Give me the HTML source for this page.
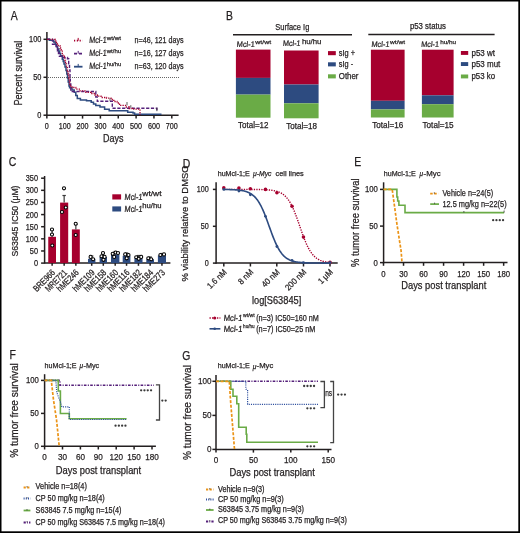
<!DOCTYPE html>
<html><head><meta charset="utf-8"><style>
html,body{margin:0;padding:0;background:#fff;}
svg{display:block;will-change:transform;}
text{font-family:"Liberation Sans", sans-serif;stroke:#231f20;stroke-width:0.25px;}
</style></head><body>
<svg width="520" height="533" viewBox="0 0 520 533">
<rect x="0" y="0" width="520" height="533" fill="#fff"/>
<text x="10.7" y="20.0" font-size="12.10" fill="#231f20" textLength="6.94" lengthAdjust="spacingAndGlyphs" >A</text>
<line x1="46.9" y1="32" x2="46.9" y2="115.9" stroke="#231f20" stroke-width="1.5" />
<line x1="46.5" y1="115.2" x2="178.6" y2="115.2" stroke="#231f20" stroke-width="1.5" />
<line x1="43.5" y1="39.3" x2="47" y2="39.3" stroke="#231f20" stroke-width="1.5" />
<text x="41.4" y="42.199999999999996" font-size="8.58" fill="#231f20" text-anchor="end" textLength="12.299999999999999" lengthAdjust="spacingAndGlyphs" >100</text>
<line x1="43.5" y1="77.3" x2="47" y2="77.3" stroke="#231f20" stroke-width="1.5" />
<text x="41.4" y="80.2" font-size="8.58" fill="#231f20" text-anchor="end" textLength="8.2" lengthAdjust="spacingAndGlyphs" >50</text>
<line x1="43.5" y1="115.2" x2="47" y2="115.2" stroke="#231f20" stroke-width="1.5" />
<text x="41.4" y="118.10000000000001" font-size="8.58" fill="#231f20" text-anchor="end" textLength="4.1" lengthAdjust="spacingAndGlyphs" >0</text>
<line x1="46.85" y1="115.2" x2="46.85" y2="118.6" stroke="#231f20" stroke-width="1.5" />
<text x="46.85" y="129.1" font-size="8.36" fill="#231f20" text-anchor="middle" textLength="4.0" lengthAdjust="spacingAndGlyphs" >0</text>
<line x1="64.7" y1="115.2" x2="64.7" y2="118.6" stroke="#231f20" stroke-width="1.5" />
<text x="64.7" y="129.1" font-size="8.36" fill="#231f20" text-anchor="middle" textLength="11.99" lengthAdjust="spacingAndGlyphs" >100</text>
<line x1="82.55" y1="115.2" x2="82.55" y2="118.6" stroke="#231f20" stroke-width="1.5" />
<text x="82.55" y="129.1" font-size="8.36" fill="#231f20" text-anchor="middle" textLength="11.99" lengthAdjust="spacingAndGlyphs" >200</text>
<line x1="100.4" y1="115.2" x2="100.4" y2="118.6" stroke="#231f20" stroke-width="1.5" />
<text x="100.4" y="129.1" font-size="8.36" fill="#231f20" text-anchor="middle" textLength="11.99" lengthAdjust="spacingAndGlyphs" >300</text>
<line x1="118.25" y1="115.2" x2="118.25" y2="118.6" stroke="#231f20" stroke-width="1.5" />
<text x="118.25" y="129.1" font-size="8.36" fill="#231f20" text-anchor="middle" textLength="11.99" lengthAdjust="spacingAndGlyphs" >400</text>
<line x1="136.1" y1="115.2" x2="136.1" y2="118.6" stroke="#231f20" stroke-width="1.5" />
<text x="136.1" y="129.1" font-size="8.36" fill="#231f20" text-anchor="middle" textLength="11.99" lengthAdjust="spacingAndGlyphs" >500</text>
<line x1="153.95" y1="115.2" x2="153.95" y2="118.6" stroke="#231f20" stroke-width="1.5" />
<text x="153.95" y="129.1" font-size="8.36" fill="#231f20" text-anchor="middle" textLength="11.99" lengthAdjust="spacingAndGlyphs" >600</text>
<line x1="171.79999999999998" y1="115.2" x2="171.79999999999998" y2="118.6" stroke="#231f20" stroke-width="1.5" />
<text x="171.79999999999998" y="129.1" font-size="8.36" fill="#231f20" text-anchor="middle" textLength="11.99" lengthAdjust="spacingAndGlyphs" >700</text>
<text x="113.3" y="142.4" font-size="10.45" fill="#231f20" text-anchor="middle" textLength="20.5" lengthAdjust="spacingAndGlyphs" >Days</text>
<text transform="translate(21.5,73.1) rotate(-90)" font-size="10.56" fill="#231f20" text-anchor="middle" textLength="65" lengthAdjust="spacingAndGlyphs" >Percent survival</text>
<line x1="48" y1="77.5" x2="180" y2="77.5" stroke="#666" stroke-width="1.0" stroke-dasharray="1 1"/>
<path d="M47,39.3 H49.3 V40.2 H53.7 V42 H55.2 V44.2 H56.5 V46.5 H57.6 V49 H58.8 V51.2 H59.7 V53.5 H60.6 V55.8 H62.3 V59.2 H63.2 V61.5 H64 V63.9 H65 V67 H66 V70.5 H66.8 V74 H67.5 V78 H68.2 V82 H69 V86 H69.6 V87.7 H72 V90 H74.2 V92.3 H75.8 V95.5 H77.3 V98.5 H80.4 V100 H86.5 V100.8 H91.2 V102.3 H93.5 V104 H95.8 V105.4 H100 V106.9 H104.6 V109.2 H109.2 V110.8 H127.7 V112.3 H133 V113 H134.6 V114.2 H161.5" fill="none" stroke="#2d4b80" stroke-width="1.5" />
<path d="M47,39.3 H52.5 V44.2 H56 V46 H56.5 V48.3 H57.5 V51 H58.5 V53.5 H59.4 V56.3 H62 V57.5 H67.5 V58.7 H68.7 V63.9 H69.5 V70 H70 V77 H70.3 V84 H70.8 V91.5 H95.8 V97 H97.3 V101.2 H112.3 V108.2 H156.9 V111.5" fill="none" stroke="#55207a" stroke-width="1.4" stroke-dasharray="3.2 1.6"/>
<path d="M47,39.3 H55.4 V40.8 H56.5 V42.5 H57.4 V44.2 H58.3 V45.7 H60 V48 H61.2 V50.3 H62.3 V55.2 H64.3 V57.2 H64.9 V60.4 H65.5 V63.9 H66.5 V67 H67.3 V70.5 H68 V74 H68.6 V78 H69.2 V82 H69.8 V86 H72 V87.5 H75.8 V89.2 H80 V90.8 H85 V92.3 H91.2 V93.5 H95 V95 H97.3 V96.2 H101 V97.5 H106.5 V98.2 H111 V99.5 H113.8 V101.5 H117 V103 H119.5 V105.4 H126.2 V107 H129.2 V108.5 H132.3 V109.2 H140 V115" fill="none" stroke="#a6002e" stroke-width="1.3" stroke-dasharray="1.3 1.1"/>
<line x1="110" y1="98.3" x2="110" y2="100.8" stroke="#333" stroke-width="0.8" />
<line x1="127" y1="102" x2="127" y2="105.4" stroke="#333" stroke-width="0.8" />
<line x1="130.8" y1="105.2" x2="130.8" y2="107.7" stroke="#333" stroke-width="0.8" />
<line x1="156.9" y1="107.8" x2="156.9" y2="111.2" stroke="#333" stroke-width="0.8" />
<line x1="74" y1="40.7" x2="82.5" y2="40.7" stroke="#a6002e" stroke-width="1.8" stroke-dasharray="1.2 1.6"/>
<line x1="78.2" y1="37.900000000000006" x2="78.2" y2="40.7" stroke="#a6002e" stroke-width="1.0" />
<text transform="translate(88.9,42.800000000000004) skewX(-5)" font-size="9.02" fill="#231f20" textLength="17.6" lengthAdjust="spacingAndGlyphs" >Mcl-1</text>
<text x="106.7" y="39.7" font-size="6.16" fill="#231f20" textLength="14.4" lengthAdjust="spacingAndGlyphs" >wt/wt</text>
<text x="134.6" y="42.800000000000004" font-size="9.02" fill="#231f20" textLength="49" lengthAdjust="spacingAndGlyphs" >n=46, 121 days</text>
<line x1="74" y1="53.7" x2="82.5" y2="53.7" stroke="#55207a" stroke-width="1.8" stroke-dasharray="3 2"/>
<line x1="78.2" y1="50.900000000000006" x2="78.2" y2="53.7" stroke="#55207a" stroke-width="1.0" />
<text transform="translate(88.9,55.800000000000004) skewX(-5)" font-size="9.02" fill="#231f20" textLength="17.6" lengthAdjust="spacingAndGlyphs" >Mcl-1</text>
<text x="106.7" y="52.7" font-size="6.16" fill="#231f20" textLength="14.4" lengthAdjust="spacingAndGlyphs" >wt/hu</text>
<text x="134.6" y="55.800000000000004" font-size="9.02" fill="#231f20" textLength="49" lengthAdjust="spacingAndGlyphs" >n=16, 127 days</text>
<line x1="74" y1="66.7" x2="82.5" y2="66.7" stroke="#2d4b80" stroke-width="1.8" />
<line x1="78.2" y1="63.900000000000006" x2="78.2" y2="66.7" stroke="#2d4b80" stroke-width="1.0" />
<text transform="translate(88.9,68.8) skewX(-5)" font-size="9.02" fill="#231f20" textLength="17.6" lengthAdjust="spacingAndGlyphs" >Mcl-1</text>
<text x="106.7" y="65.7" font-size="6.16" fill="#231f20" textLength="14.4" lengthAdjust="spacingAndGlyphs" >hu/hu</text>
<text x="134.6" y="68.8" font-size="9.02" fill="#231f20" textLength="49" lengthAdjust="spacingAndGlyphs" >n=63, 120 days</text>
<text x="226.1" y="20.1" font-size="12.10" fill="#231f20" textLength="6.94" lengthAdjust="spacingAndGlyphs" >B</text>
<text x="292.3" y="29.7" font-size="8.80" fill="#231f20" text-anchor="middle" textLength="34" lengthAdjust="spacingAndGlyphs" >Surface Ig</text>
<line x1="233" y1="34.8" x2="352" y2="34.8" stroke="#231f20" stroke-width="1.5" />
<text x="427.9" y="28.9" font-size="8.80" fill="#231f20" text-anchor="middle" textLength="36" lengthAdjust="spacingAndGlyphs" >p53 status</text>
<line x1="368.3" y1="34.6" x2="494.6" y2="34.6" stroke="#231f20" stroke-width="1.5" />
<rect x="235.9" y="49.6" width="34.6" height="28.300000000000004" fill="#a6002e"/>
<rect x="235.9" y="77.9" width="34.6" height="16.69999999999999" fill="#2d4b80"/>
<rect x="235.9" y="94.6" width="34.6" height="23.10000000000001" fill="#6aab46"/>
<rect x="284" y="50.5" width="34.6" height="34.0" fill="#a6002e"/>
<rect x="284" y="84.5" width="34.6" height="18.799999999999997" fill="#2d4b80"/>
<rect x="284" y="103.3" width="34.6" height="15.0" fill="#6aab46"/>
<rect x="370.9" y="49.7" width="33.7" height="51.099999999999994" fill="#a6002e"/>
<rect x="370.9" y="100.8" width="33.7" height="8.600000000000009" fill="#2d4b80"/>
<rect x="370.9" y="109.4" width="33.7" height="8.099999999999994" fill="#6aab46"/>
<rect x="421.9" y="49.7" width="31.7" height="45.599999999999994" fill="#a6002e"/>
<rect x="421.9" y="95.3" width="31.7" height="8.900000000000006" fill="#2d4b80"/>
<rect x="421.9" y="104.2" width="31.7" height="13.299999999999997" fill="#6aab46"/>
<text transform="translate(236.5,46.8) skewX(-5)" font-size="8.03" fill="#231f20" textLength="18" lengthAdjust="spacingAndGlyphs" >Mcl-1</text>
<text x="255.3" y="43.8" font-size="6.16" fill="#231f20" textLength="15.8" lengthAdjust="spacingAndGlyphs" >wt/wt</text>
<text transform="translate(282.7,46.4) skewX(-5)" font-size="8.03" fill="#231f20" textLength="17.7" lengthAdjust="spacingAndGlyphs" >Mcl-1</text>
<text x="301.9" y="44.0" font-size="7.70" fill="#231f20" textLength="19.6" lengthAdjust="spacingAndGlyphs" >hu/hu</text>
<text transform="translate(371.2,46.5) skewX(-5)" font-size="8.03" fill="#231f20" textLength="18.1" lengthAdjust="spacingAndGlyphs" >Mcl-1</text>
<text x="390.1" y="43.8" font-size="6.16" fill="#231f20" textLength="15" lengthAdjust="spacingAndGlyphs" >wt/wt</text>
<text transform="translate(420.9,46.7) skewX(-5)" font-size="8.03" fill="#231f20" textLength="17.9" lengthAdjust="spacingAndGlyphs" >Mcl-1</text>
<text x="440.2" y="43.6" font-size="6.16" fill="#231f20" textLength="15.9" lengthAdjust="spacingAndGlyphs" >hu/hu</text>
<text x="238.0" y="128.2" font-size="8.36" fill="#231f20" textLength="30.5" lengthAdjust="spacingAndGlyphs" >Total=12</text>
<text x="286.3" y="128.8" font-size="8.36" fill="#231f20" textLength="30.7" lengthAdjust="spacingAndGlyphs" >Total=18</text>
<text x="372.3" y="128.0" font-size="8.36" fill="#231f20" textLength="30.9" lengthAdjust="spacingAndGlyphs" >Total=16</text>
<text x="422.5" y="128.2" font-size="8.36" fill="#231f20" textLength="31.1" lengthAdjust="spacingAndGlyphs" >Total=15</text>
<rect x="328" y="51.1" width="7.8" height="4.1" fill="#a6002e"/>
<rect x="328" y="62.3" width="7.8" height="4.1" fill="#2d4b80"/>
<rect x="328" y="74.3" width="7.8" height="4.1" fill="#6aab46"/>
<text x="338.8" y="56.0" font-size="8.36" fill="#231f20" textLength="16.2" lengthAdjust="spacingAndGlyphs" >sIg +</text>
<text x="338.8" y="66.8" font-size="8.36" fill="#231f20" textLength="14.3" lengthAdjust="spacingAndGlyphs" >sIg -</text>
<text x="338.8" y="79.0" font-size="8.36" fill="#231f20" textLength="19.7" lengthAdjust="spacingAndGlyphs" >Other</text>
<rect x="460.9" y="51.0" width="7.3" height="3.9" fill="#a6002e"/>
<rect x="460.9" y="62.1" width="7.3" height="3.9" fill="#2d4b80"/>
<rect x="460.9" y="74.5" width="7.3" height="3.9" fill="#6aab46"/>
<text x="471.5" y="55.9" font-size="8.36" fill="#231f20" textLength="23.5" lengthAdjust="spacingAndGlyphs" >p53 wt</text>
<text x="471.5" y="66.9" font-size="8.36" fill="#231f20" textLength="28.8" lengthAdjust="spacingAndGlyphs" >p53 mut</text>
<text x="471.5" y="79.4" font-size="8.36" fill="#231f20" textLength="23.5" lengthAdjust="spacingAndGlyphs" >p53 ko</text>
<text x="8.7" y="166.1" font-size="12.10" fill="#231f20" textLength="7.52" lengthAdjust="spacingAndGlyphs" >C</text>
<line x1="44.6" y1="176" x2="44.6" y2="263.6" stroke="#231f20" stroke-width="1.5" />
<line x1="44.3" y1="263.1" x2="170.4" y2="263.1" stroke="#231f20" stroke-width="1.5" />
<line x1="41.1" y1="263.1" x2="44.6" y2="263.1" stroke="#231f20" stroke-width="1.5" />
<text x="38.0" y="266.1" font-size="8.25" fill="#231f20" text-anchor="end" textLength="4.1" lengthAdjust="spacingAndGlyphs" >0</text>
<line x1="41.1" y1="250.97000000000003" x2="44.6" y2="250.97000000000003" stroke="#231f20" stroke-width="1.5" />
<text x="38.0" y="253.97000000000003" font-size="8.25" fill="#231f20" text-anchor="end" textLength="8.2" lengthAdjust="spacingAndGlyphs" >50</text>
<line x1="41.1" y1="238.84000000000003" x2="44.6" y2="238.84000000000003" stroke="#231f20" stroke-width="1.5" />
<text x="38.0" y="241.84000000000003" font-size="8.25" fill="#231f20" text-anchor="end" textLength="12.2" lengthAdjust="spacingAndGlyphs" >100</text>
<line x1="41.1" y1="226.71000000000004" x2="44.6" y2="226.71000000000004" stroke="#231f20" stroke-width="1.5" />
<text x="38.0" y="229.71000000000004" font-size="8.25" fill="#231f20" text-anchor="end" textLength="12.2" lengthAdjust="spacingAndGlyphs" >150</text>
<line x1="41.1" y1="214.58" x2="44.6" y2="214.58" stroke="#231f20" stroke-width="1.5" />
<text x="38.0" y="217.58" font-size="8.25" fill="#231f20" text-anchor="end" textLength="12.2" lengthAdjust="spacingAndGlyphs" >200</text>
<line x1="41.1" y1="202.45000000000002" x2="44.6" y2="202.45000000000002" stroke="#231f20" stroke-width="1.5" />
<text x="38.0" y="205.45000000000002" font-size="8.25" fill="#231f20" text-anchor="end" textLength="12.2" lengthAdjust="spacingAndGlyphs" >250</text>
<line x1="41.1" y1="190.32000000000002" x2="44.6" y2="190.32000000000002" stroke="#231f20" stroke-width="1.5" />
<text x="38.0" y="193.32000000000002" font-size="8.25" fill="#231f20" text-anchor="end" textLength="12.2" lengthAdjust="spacingAndGlyphs" >300</text>
<line x1="41.1" y1="178.19000000000003" x2="44.6" y2="178.19000000000003" stroke="#231f20" stroke-width="1.5" />
<text x="38.0" y="181.19000000000003" font-size="8.25" fill="#231f20" text-anchor="end" textLength="12.2" lengthAdjust="spacingAndGlyphs" >350</text>
<text transform="translate(17.9,221) rotate(-90)" font-size="9.24" fill="#231f20" text-anchor="middle" textLength="71" lengthAdjust="spacingAndGlyphs" >S63845 IC50 (μM)</text>
<rect x="48.25" y="236.8" width="7.75" height="26.30000000000001" fill="#a6002e"/>
<line x1="52.125" y1="229.8" x2="52.125" y2="236.8" stroke="#3a3a3a" stroke-width="1.2" />
<line x1="50.425" y1="229.8" x2="53.825" y2="229.8" stroke="#3a3a3a" stroke-width="1.2" />
<line x1="52.125" y1="263.1" x2="52.125" y2="265.8" stroke="#231f20" stroke-width="1.5" />
<text transform="translate(55.725,273.2) rotate(-45)" font-size="9.02" fill="#231f20" text-anchor="end" textLength="27" lengthAdjust="spacingAndGlyphs" >BRE966</text>
<rect x="60.1" y="202.6" width="8.100000000000001" height="60.50000000000003" fill="#a6002e"/>
<line x1="64.15" y1="195.5" x2="64.15" y2="202.6" stroke="#3a3a3a" stroke-width="1.2" />
<line x1="62.45" y1="195.5" x2="65.85000000000001" y2="195.5" stroke="#3a3a3a" stroke-width="1.2" />
<line x1="64.15" y1="263.1" x2="64.15" y2="265.8" stroke="#231f20" stroke-width="1.5" />
<text transform="translate(67.75,273.2) rotate(-45)" font-size="9.02" fill="#231f20" text-anchor="end" textLength="27" lengthAdjust="spacingAndGlyphs" >MRE721</text>
<rect x="71.9" y="229.4" width="7.8999999999999915" height="33.70000000000002" fill="#a6002e"/>
<line x1="75.85" y1="224.5" x2="75.85" y2="229.4" stroke="#3a3a3a" stroke-width="1.2" />
<line x1="74.14999999999999" y1="224.5" x2="77.55" y2="224.5" stroke="#3a3a3a" stroke-width="1.2" />
<line x1="75.85" y1="263.1" x2="75.85" y2="265.8" stroke="#231f20" stroke-width="1.5" />
<text transform="translate(79.44999999999999,273.2) rotate(-45)" font-size="9.02" fill="#231f20" text-anchor="end" textLength="27" lengthAdjust="spacingAndGlyphs" >hME246</text>
<rect x="88" y="258.8" width="7.400000000000006" height="4.300000000000011" fill="#2d4b80"/>
<line x1="91.7" y1="256" x2="91.7" y2="258.8" stroke="#3a3a3a" stroke-width="1.2" />
<line x1="90.0" y1="256" x2="93.4" y2="256" stroke="#3a3a3a" stroke-width="1.2" />
<line x1="91.7" y1="263.1" x2="91.7" y2="265.8" stroke="#231f20" stroke-width="1.5" />
<text transform="translate(95.3,273.2) rotate(-45)" font-size="9.02" fill="#231f20" text-anchor="end" textLength="27" lengthAdjust="spacingAndGlyphs" >hME109</text>
<rect x="99.6" y="257" width="7.400000000000006" height="6.100000000000023" fill="#2d4b80"/>
<line x1="103.3" y1="253.5" x2="103.3" y2="257" stroke="#3a3a3a" stroke-width="1.2" />
<line x1="101.6" y1="253.5" x2="105.0" y2="253.5" stroke="#3a3a3a" stroke-width="1.2" />
<line x1="103.3" y1="263.1" x2="103.3" y2="265.8" stroke="#231f20" stroke-width="1.5" />
<text transform="translate(106.89999999999999,273.2) rotate(-45)" font-size="9.02" fill="#231f20" text-anchor="end" textLength="27" lengthAdjust="spacingAndGlyphs" >hME158</text>
<rect x="111" y="254.4" width="8.400000000000006" height="8.700000000000017" fill="#2d4b80"/>
<line x1="115.2" y1="251.5" x2="115.2" y2="254.4" stroke="#3a3a3a" stroke-width="1.2" />
<line x1="113.5" y1="251.5" x2="116.9" y2="251.5" stroke="#3a3a3a" stroke-width="1.2" />
<line x1="115.2" y1="263.1" x2="115.2" y2="265.8" stroke="#231f20" stroke-width="1.5" />
<text transform="translate(118.8,273.2) rotate(-45)" font-size="9.02" fill="#231f20" text-anchor="end" textLength="27" lengthAdjust="spacingAndGlyphs" >hME160</text>
<rect x="122.7" y="255.8" width="7.700000000000003" height="7.300000000000011" fill="#2d4b80"/>
<line x1="126.55000000000001" y1="253" x2="126.55000000000001" y2="255.8" stroke="#3a3a3a" stroke-width="1.2" />
<line x1="124.85000000000001" y1="253" x2="128.25" y2="253" stroke="#3a3a3a" stroke-width="1.2" />
<line x1="126.55000000000001" y1="263.1" x2="126.55000000000001" y2="265.8" stroke="#231f20" stroke-width="1.5" />
<text transform="translate(130.15,273.2) rotate(-45)" font-size="9.02" fill="#231f20" text-anchor="end" textLength="27" lengthAdjust="spacingAndGlyphs" >hME116</text>
<rect x="134.4" y="258.3" width="8.099999999999994" height="4.800000000000011" fill="#2d4b80"/>
<line x1="138.45" y1="255.5" x2="138.45" y2="258.3" stroke="#3a3a3a" stroke-width="1.2" />
<line x1="136.75" y1="255.5" x2="140.14999999999998" y2="255.5" stroke="#3a3a3a" stroke-width="1.2" />
<line x1="138.45" y1="263.1" x2="138.45" y2="265.8" stroke="#231f20" stroke-width="1.5" />
<text transform="translate(142.04999999999998,273.2) rotate(-45)" font-size="9.02" fill="#231f20" text-anchor="end" textLength="27" lengthAdjust="spacingAndGlyphs" >hME182</text>
<rect x="146.3" y="259.2" width="7.699999999999989" height="3.900000000000034" fill="#2d4b80"/>
<line x1="150.15" y1="257" x2="150.15" y2="259.2" stroke="#3a3a3a" stroke-width="1.2" />
<line x1="148.45000000000002" y1="257" x2="151.85" y2="257" stroke="#3a3a3a" stroke-width="1.2" />
<line x1="150.15" y1="263.1" x2="150.15" y2="265.8" stroke="#231f20" stroke-width="1.5" />
<text transform="translate(153.75,273.2) rotate(-45)" font-size="9.02" fill="#231f20" text-anchor="end" textLength="27" lengthAdjust="spacingAndGlyphs" >hME184</text>
<rect x="157.9" y="255.4" width="8.099999999999994" height="7.700000000000017" fill="#2d4b80"/>
<line x1="161.95" y1="253.5" x2="161.95" y2="255.4" stroke="#3a3a3a" stroke-width="1.2" />
<line x1="160.25" y1="253.5" x2="163.64999999999998" y2="253.5" stroke="#3a3a3a" stroke-width="1.2" />
<line x1="161.95" y1="263.1" x2="161.95" y2="265.8" stroke="#231f20" stroke-width="1.5" />
<text transform="translate(165.54999999999998,273.2) rotate(-45)" font-size="9.02" fill="#231f20" text-anchor="end" textLength="27" lengthAdjust="spacingAndGlyphs" >hME273</text>
<circle cx="52" cy="229.5" r="1.55" fill="#fff" stroke="#000" stroke-width="1.05"/>
<circle cx="52" cy="234.5" r="1.55" fill="#fff" stroke="#000" stroke-width="1.05"/>
<circle cx="52.3" cy="245.5" r="1.55" fill="#fff" stroke="#000" stroke-width="1.05"/>
<circle cx="64" cy="188.3" r="1.55" fill="#fff" stroke="#000" stroke-width="1.05"/>
<circle cx="65.8" cy="207.5" r="1.55" fill="#fff" stroke="#000" stroke-width="1.05"/>
<circle cx="62" cy="212" r="1.55" fill="#fff" stroke="#000" stroke-width="1.05"/>
<circle cx="75.7" cy="223.7" r="1.55" fill="#fff" stroke="#000" stroke-width="1.05"/>
<circle cx="75.7" cy="235" r="1.55" fill="#fff" stroke="#000" stroke-width="1.05"/>
<circle cx="90.6" cy="256.9" r="1.55" fill="#fff" stroke="#000" stroke-width="1.05"/>
<circle cx="93.1" cy="259.2" r="1.55" fill="#fff" stroke="#000" stroke-width="1.05"/>
<circle cx="103" cy="253" r="1.55" fill="#fff" stroke="#000" stroke-width="1.05"/>
<circle cx="101.5" cy="256.3" r="1.55" fill="#fff" stroke="#000" stroke-width="1.05"/>
<circle cx="104.6" cy="256.9" r="1.55" fill="#fff" stroke="#000" stroke-width="1.05"/>
<circle cx="103.5" cy="259.8" r="1.55" fill="#fff" stroke="#000" stroke-width="1.05"/>
<circle cx="112.7" cy="253.8" r="1.55" fill="#fff" stroke="#000" stroke-width="1.05"/>
<circle cx="115.6" cy="252.5" r="1.55" fill="#fff" stroke="#000" stroke-width="1.05"/>
<circle cx="118" cy="253" r="1.55" fill="#fff" stroke="#000" stroke-width="1.05"/>
<circle cx="114.2" cy="256.9" r="1.55" fill="#fff" stroke="#000" stroke-width="1.05"/>
<circle cx="125.2" cy="254.4" r="1.55" fill="#fff" stroke="#000" stroke-width="1.05"/>
<circle cx="128.5" cy="255" r="1.55" fill="#fff" stroke="#000" stroke-width="1.05"/>
<circle cx="126.7" cy="258.3" r="1.55" fill="#fff" stroke="#000" stroke-width="1.05"/>
<circle cx="136.2" cy="257.3" r="1.55" fill="#fff" stroke="#000" stroke-width="1.05"/>
<circle cx="138.7" cy="258.8" r="1.55" fill="#fff" stroke="#000" stroke-width="1.05"/>
<circle cx="141.2" cy="256.9" r="1.55" fill="#fff" stroke="#000" stroke-width="1.05"/>
<circle cx="148.3" cy="258.3" r="1.55" fill="#fff" stroke="#000" stroke-width="1.05"/>
<circle cx="151.2" cy="259.2" r="1.55" fill="#fff" stroke="#000" stroke-width="1.05"/>
<circle cx="160.4" cy="255" r="1.55" fill="#fff" stroke="#000" stroke-width="1.05"/>
<circle cx="164" cy="254.4" r="1.55" fill="#fff" stroke="#000" stroke-width="1.05"/>
<rect x="112.3" y="194.3" width="8.8" height="5.2" fill="#a6002e"/>
<rect x="112.3" y="206.4" width="8.8" height="5.1" fill="#2d4b80"/>
<text transform="translate(124.3,199.6) skewX(-5)" font-size="8.80" fill="#231f20" textLength="18" lengthAdjust="spacingAndGlyphs" >Mcl-1</text>
<text x="142.3" y="196.3" font-size="7.04" fill="#231f20" textLength="19.2" lengthAdjust="spacingAndGlyphs" >wt/wt</text>
<text transform="translate(124.3,211.6) skewX(-5)" font-size="8.80" fill="#231f20" textLength="18" lengthAdjust="spacingAndGlyphs" >Mcl-1</text>
<text x="142.3" y="208.3" font-size="7.04" fill="#231f20" textLength="19.2" lengthAdjust="spacingAndGlyphs" >hu/hu</text>
<text x="182.7" y="167.6" font-size="12.10" fill="#231f20" textLength="7.52" lengthAdjust="spacingAndGlyphs" >D</text>
<text x="217.7" y="176" font-size="7.92" fill="#231f20" textLength="32" lengthAdjust="spacingAndGlyphs" >huMcl-1;E</text>
<text x="253" y="176" font-size="7.92" fill="#231f20" textLength="18.5" lengthAdjust="spacingAndGlyphs" font-style="italic">μ-Myc</text>
<text x="275.6" y="176" font-size="7.92" fill="#231f20" textLength="28.2" lengthAdjust="spacingAndGlyphs" >cell lines</text>
<line x1="216.1" y1="182.3" x2="216.1" y2="263.7" stroke="#231f20" stroke-width="1.5" />
<line x1="215.6" y1="263.1" x2="337.7" y2="263.1" stroke="#231f20" stroke-width="1.5" />
<line x1="212.9" y1="189.4" x2="216.1" y2="189.4" stroke="#231f20" stroke-width="1.5" />
<text x="208.8" y="192.3" font-size="8.58" fill="#231f20" text-anchor="end" textLength="12.0" lengthAdjust="spacingAndGlyphs" >100</text>
<line x1="212.9" y1="226.3" x2="216.1" y2="226.3" stroke="#231f20" stroke-width="1.5" />
<text x="208.8" y="229.20000000000002" font-size="8.58" fill="#231f20" text-anchor="end" textLength="8.0" lengthAdjust="spacingAndGlyphs" >50</text>
<line x1="212.9" y1="263.1" x2="216.1" y2="263.1" stroke="#231f20" stroke-width="1.5" />
<text x="208.8" y="266.0" font-size="8.58" fill="#231f20" text-anchor="end" textLength="4.0" lengthAdjust="spacingAndGlyphs" >0</text>
<text transform="translate(187.8,223.5) rotate(-90)" font-size="9.90" fill="#231f20" text-anchor="middle" textLength="116.2" lengthAdjust="spacingAndGlyphs" >% viability relative to DMSO</text>
<line x1="223.8" y1="263.1" x2="223.8" y2="266.5" stroke="#231f20" stroke-width="1.5" />
<text transform="translate(227.20000000000002,272.6) rotate(-45)" font-size="8.58" fill="#231f20" text-anchor="end" textLength="23.5" lengthAdjust="spacingAndGlyphs" >1.6 nM</text>
<line x1="250.4" y1="263.1" x2="250.4" y2="266.5" stroke="#231f20" stroke-width="1.5" />
<text transform="translate(253.8,272.6) rotate(-45)" font-size="8.58" fill="#231f20" text-anchor="end" textLength="17.5" lengthAdjust="spacingAndGlyphs" >8 nM</text>
<line x1="276.8" y1="263.1" x2="276.8" y2="266.5" stroke="#231f20" stroke-width="1.5" />
<text transform="translate(280.2,272.6) rotate(-45)" font-size="8.58" fill="#231f20" text-anchor="end" textLength="21.5" lengthAdjust="spacingAndGlyphs" >40 nM</text>
<line x1="303.5" y1="263.1" x2="303.5" y2="266.5" stroke="#231f20" stroke-width="1.5" />
<text transform="translate(306.9,272.6) rotate(-45)" font-size="8.58" fill="#231f20" text-anchor="end" textLength="26" lengthAdjust="spacingAndGlyphs" >200 nM</text>
<line x1="330" y1="263.1" x2="330" y2="266.5" stroke="#231f20" stroke-width="1.5" />
<text transform="translate(333.4,272.6) rotate(-45)" font-size="8.58" fill="#231f20" text-anchor="end" textLength="17" lengthAdjust="spacingAndGlyphs" >1 μM</text>
<text x="276.6" y="303.7" font-size="10.34" fill="#231f20" text-anchor="middle" textLength="49.3" lengthAdjust="spacingAndGlyphs" >log[S63845]</text>
<path d="M223.80,189.40 L224.69,189.40 L225.57,189.40 L226.46,189.40 L227.34,189.40 L228.23,189.40 L229.11,189.40 L230.00,189.40 L230.88,189.40 L231.77,189.40 L232.65,189.40 L233.54,189.40 L234.42,189.40 L235.31,189.40 L236.19,189.40 L237.08,189.40 L237.96,189.40 L238.85,189.40 L239.73,189.41 L240.62,189.41 L241.50,189.41 L242.39,189.41 L243.27,189.41 L244.16,189.41 L245.04,189.41 L245.93,189.42 L246.81,189.42 L247.70,189.42 L248.59,189.42 L249.47,189.43 L250.36,189.43 L251.24,189.44 L252.13,189.44 L253.01,189.45 L253.90,189.45 L254.78,189.46 L255.67,189.47 L256.55,189.48 L257.44,189.49 L258.32,189.51 L259.21,189.52 L260.09,189.54 L260.98,189.56 L261.86,189.59 L262.75,189.61 L263.63,189.65 L264.52,189.68 L265.40,189.73 L266.29,189.77 L267.17,189.83 L268.06,189.89 L268.94,189.97 L269.83,190.05 L270.72,190.15 L271.60,190.26 L272.49,190.38 L273.37,190.53 L274.26,190.70 L275.14,190.89 L276.03,191.10 L276.91,191.35 L277.80,191.64 L278.68,191.96 L279.57,192.33 L280.45,192.74 L281.34,193.22 L282.22,193.76 L283.11,194.36 L283.99,195.05 L284.88,195.82 L285.76,196.69 L286.65,197.66 L287.53,198.74 L288.42,199.93 L289.30,201.26 L290.19,202.71 L291.07,204.30 L291.96,206.03 L292.84,207.89 L293.73,209.89 L294.62,212.02 L295.50,214.26 L296.39,216.61 L297.27,219.04 L298.16,221.55 L299.04,224.09 L299.93,226.66 L300.81,229.22 L301.70,231.76 L302.58,234.24 L303.47,236.65 L304.35,238.97 L305.24,241.17 L306.12,243.26 L307.01,245.22 L307.89,247.04 L308.78,248.72 L309.66,250.27 L310.55,251.68 L311.43,252.96 L312.32,254.12 L313.20,255.16 L314.09,256.10 L314.97,256.93 L315.86,257.68 L316.75,258.34 L317.63,258.92 L318.52,259.44 L319.40,259.90 L320.29,260.30 L321.17,260.65 L322.06,260.96 L322.94,261.23 L323.83,261.47 L324.71,261.68 L325.60,261.86 L326.48,262.02 L327.37,262.16 L328.25,262.28 L329.14,262.38 L330.02,262.48" fill="none" stroke="#a6002e" stroke-width="1.4" stroke-dasharray="1.3 1.2"/>
<circle cx="223.80" cy="187.9" r="1.8" fill="#a6002e"/>
<circle cx="238.92" cy="188" r="1.8" fill="#a6002e"/>
<circle cx="250.36" cy="188.8" r="1.8" fill="#a6002e"/>
<circle cx="265.47" cy="189.4" r="1.8" fill="#a6002e"/>
<circle cx="276.91" cy="192.7" r="1.8" fill="#a6002e"/>
<circle cx="292.03" cy="206.3" r="1.8" fill="#a6002e"/>
<circle cx="303.47" cy="237.1" r="1.8" fill="#a6002e"/>
<circle cx="330.02" cy="262.4" r="1.8" fill="#a6002e"/>
<path d="M223.80,189.48 L224.69,189.49 L225.57,189.50 L226.46,189.51 L227.34,189.53 L228.23,189.55 L229.11,189.57 L230.00,189.59 L230.88,189.62 L231.77,189.65 L232.65,189.69 L233.54,189.73 L234.42,189.78 L235.31,189.83 L236.19,189.90 L237.08,189.97 L237.96,190.05 L238.85,190.14 L239.73,190.24 L240.62,190.36 L241.50,190.50 L242.39,190.66 L243.27,190.83 L244.16,191.03 L245.04,191.26 L245.93,191.52 L246.81,191.81 L247.70,192.15 L248.59,192.53 L249.47,192.95 L250.36,193.44 L251.24,193.98 L252.13,194.59 L253.01,195.27 L253.90,196.04 L254.78,196.90 L255.67,197.85 L256.55,198.91 L257.44,200.07 L258.32,201.36 L259.21,202.76 L260.09,204.29 L260.98,205.95 L261.86,207.74 L262.75,209.65 L263.63,211.67 L264.52,213.81 L265.40,216.05 L266.29,218.37 L267.17,220.76 L268.06,223.19 L268.94,225.66 L269.83,228.13 L270.72,230.58 L271.60,233.00 L272.49,235.35 L273.37,237.63 L274.26,239.82 L275.14,241.90 L276.03,243.87 L276.91,245.71 L277.80,247.43 L278.68,249.02 L279.57,250.48 L280.45,251.83 L281.34,253.05 L282.22,254.16 L283.11,255.16 L283.99,256.06 L284.88,256.87 L285.76,257.59 L286.65,258.24 L287.53,258.81 L288.42,259.32 L289.30,259.78 L290.19,260.18 L291.07,260.53 L291.96,260.84 L292.84,261.12 L293.73,261.36 L294.62,261.58 L295.50,261.76 L296.39,261.93 L297.27,262.07 L298.16,262.20 L299.04,262.31 L299.93,262.41 L300.81,262.50 L301.70,262.57 L302.58,262.64 L303.47,262.70 L304.35,262.75 L305.24,262.79 L306.12,262.83 L307.01,262.86 L307.89,262.89 L308.78,262.92 L309.66,262.94 L310.55,262.96 L311.43,262.98 L312.32,262.99 L313.20,263.01 L314.09,263.02 L314.97,263.03 L315.86,263.04 L316.75,263.05 L317.63,263.05 L318.52,263.06 L319.40,263.06 L320.29,263.07 L321.17,263.07 L322.06,263.08 L322.94,263.08 L323.83,263.08 L324.71,263.08 L325.60,263.09 L326.48,263.09 L327.37,263.09 L328.25,263.09 L329.14,263.09 L330.02,263.09" fill="none" stroke="#2d4b80" stroke-width="1.6" />
<circle cx="223.80" cy="189.4" r="1.4" fill="#2d4b80"/>
<circle cx="238.92" cy="191" r="1.4" fill="#2d4b80"/>
<circle cx="250.36" cy="194.8" r="1.4" fill="#2d4b80"/>
<circle cx="265.47" cy="216.3" r="1.4" fill="#2d4b80"/>
<circle cx="276.91" cy="246.5" r="1.4" fill="#2d4b80"/>
<circle cx="292.03" cy="260.3" r="1.4" fill="#2d4b80"/>
<circle cx="303.47" cy="262.6" r="1.4" fill="#2d4b80"/>
<circle cx="330.02" cy="262.6" r="1.4" fill="#2d4b80"/>
<line x1="209.5" y1="318" x2="220.4" y2="318" stroke="#a6002e" stroke-width="1.5" stroke-dasharray="1.3 1.2"/>
<circle cx="214.7" cy="318" r="1.6" fill="#a6002e"/>
<line x1="209.5" y1="328.8" x2="220.4" y2="328.8" stroke="#2d4b80" stroke-width="1.6" />
<circle cx="214.7" cy="328.8" r="1.3" fill="#2d4b80"/>
<text transform="translate(223.4,320.6) skewX(-5)" font-size="8.80" fill="#231f20" textLength="18.8" lengthAdjust="spacingAndGlyphs" >Mcl-1</text>
<text x="243.1" y="316.8" font-size="5.72" fill="#231f20" textLength="11.6" lengthAdjust="spacingAndGlyphs" >wt/wt</text>
<text x="256.2" y="320.6" font-size="8.80" fill="#231f20" textLength="62.7" lengthAdjust="spacingAndGlyphs" >(n=3) IC50=160 nM</text>
<text transform="translate(223.4,331.7) skewX(-5)" font-size="8.80" fill="#231f20" textLength="18.8" lengthAdjust="spacingAndGlyphs" >Mcl-1</text>
<text x="243.1" y="327.9" font-size="5.72" fill="#231f20" textLength="11.6" lengthAdjust="spacingAndGlyphs" >hu/hu</text>
<text x="256.2" y="331.7" font-size="8.80" fill="#231f20" textLength="59.2" lengthAdjust="spacingAndGlyphs" >(n=7) IC50=25 nM</text>
<text x="354.2" y="165.8" font-size="12.10" fill="#231f20" textLength="6.94" lengthAdjust="spacingAndGlyphs" >E</text>
<text x="383.8" y="176" font-size="7.92" fill="#231f20" textLength="32" lengthAdjust="spacingAndGlyphs" >huMcl-1;E</text>
<text x="419.6" y="176.2" font-size="7.92" fill="#231f20" textLength="3.6" lengthAdjust="spacingAndGlyphs" font-style="italic">μ</text>
<text x="423.6" y="176" font-size="7.92" fill="#231f20" textLength="17" lengthAdjust="spacingAndGlyphs" >-Myc</text>
<line x1="383.6" y1="182.3" x2="383.6" y2="263.3" stroke="#231f20" stroke-width="1.5" />
<line x1="383.1" y1="262.6" x2="507.5" y2="262.6" stroke="#231f20" stroke-width="1.5" />
<line x1="380" y1="189.4" x2="383.6" y2="189.4" stroke="#231f20" stroke-width="1.5" />
<text x="377.9" y="192.3" font-size="9.02" fill="#231f20" text-anchor="end" textLength="12.899999999999999" lengthAdjust="spacingAndGlyphs" >100</text>
<line x1="380" y1="226.1" x2="383.6" y2="226.1" stroke="#231f20" stroke-width="1.5" />
<text x="377.9" y="229.0" font-size="9.02" fill="#231f20" text-anchor="end" textLength="8.6" lengthAdjust="spacingAndGlyphs" >50</text>
<line x1="380" y1="262.6" x2="383.6" y2="262.6" stroke="#231f20" stroke-width="1.5" />
<text x="377.9" y="265.5" font-size="9.02" fill="#231f20" text-anchor="end" textLength="4.3" lengthAdjust="spacingAndGlyphs" >0</text>
<line x1="383.5" y1="262.6" x2="383.5" y2="265.8" stroke="#231f20" stroke-width="1.5" />
<text x="383.5" y="276.6" font-size="9.02" fill="#231f20" text-anchor="middle" textLength="4.31" lengthAdjust="spacingAndGlyphs" >0</text>
<line x1="403.525" y1="262.6" x2="403.525" y2="265.8" stroke="#231f20" stroke-width="1.5" />
<text x="403.525" y="276.6" font-size="9.02" fill="#231f20" text-anchor="middle" textLength="8.63" lengthAdjust="spacingAndGlyphs" >30</text>
<line x1="423.55" y1="262.6" x2="423.55" y2="265.8" stroke="#231f20" stroke-width="1.5" />
<text x="423.55" y="276.6" font-size="9.02" fill="#231f20" text-anchor="middle" textLength="8.63" lengthAdjust="spacingAndGlyphs" >60</text>
<line x1="443.575" y1="262.6" x2="443.575" y2="265.8" stroke="#231f20" stroke-width="1.5" />
<text x="443.575" y="276.6" font-size="9.02" fill="#231f20" text-anchor="middle" textLength="8.63" lengthAdjust="spacingAndGlyphs" >90</text>
<line x1="463.6" y1="262.6" x2="463.6" y2="265.8" stroke="#231f20" stroke-width="1.5" />
<text x="463.6" y="276.6" font-size="9.02" fill="#231f20" text-anchor="middle" textLength="12.94" lengthAdjust="spacingAndGlyphs" >120</text>
<line x1="483.625" y1="262.6" x2="483.625" y2="265.8" stroke="#231f20" stroke-width="1.5" />
<text x="483.625" y="276.6" font-size="9.02" fill="#231f20" text-anchor="middle" textLength="12.94" lengthAdjust="spacingAndGlyphs" >150</text>
<line x1="503.65" y1="262.6" x2="503.65" y2="265.8" stroke="#231f20" stroke-width="1.5" />
<text x="503.65" y="276.6" font-size="9.02" fill="#231f20" text-anchor="middle" textLength="12.94" lengthAdjust="spacingAndGlyphs" >180</text>
<text x="443.8" y="289.3" font-size="10.56" fill="#231f20" text-anchor="middle" textLength="85.1" lengthAdjust="spacingAndGlyphs" >Days post transplant</text>
<text transform="translate(358.9,222.7) rotate(-90)" font-size="10.56" fill="#231f20" text-anchor="middle" textLength="88.4" lengthAdjust="spacingAndGlyphs" >% tumor free survival</text>
<path d="M383.6,189.4 H396.9 V197 H397.7 V201 H398.9 V205.3 H405 V212.6 H504.1" fill="none" stroke="#6aab46" stroke-width="1.6" />
<line x1="463.9" y1="211" x2="463.9" y2="212.6" stroke="#333" stroke-width="0.8" />
<line x1="504.1" y1="210.5" x2="504.1" y2="212.6" stroke="#333" stroke-width="0.8" />
<path d="M383.6,189.4 H392.2 L394.4,205.3 L396.9,223.9 L401.1,250.9 L402,262.6" fill="none" stroke="#eb9316" stroke-width="1.7" stroke-dasharray="3 1.6"/>
<line x1="430.2" y1="193.7" x2="438.3" y2="193.7" stroke="#eb9316" stroke-width="1.8" stroke-dasharray="2.5 1.5"/>
<line x1="430.2" y1="204.1" x2="439" y2="204.1" stroke="#6aab46" stroke-width="1.7" />
<line x1="434.3" y1="192.2" x2="434.3" y2="193.7" stroke="#333" stroke-width="0.7" />
<line x1="434.6" y1="202.6" x2="434.6" y2="204.1" stroke="#333" stroke-width="0.7" />
<text x="442.4" y="196.1" font-size="8.80" fill="#231f20" textLength="50.8" lengthAdjust="spacingAndGlyphs" >Vehicle n=24(5)</text>
<text x="442.4" y="206.7" font-size="8.80" fill="#231f20" textLength="64.2" lengthAdjust="spacingAndGlyphs" >12.5 mg/kg n=22(5)</text>
<circle cx="493.15" cy="220.2" r="1.15" fill="#3a3a3a"/>
<circle cx="496.45" cy="220.2" r="1.15" fill="#3a3a3a"/>
<circle cx="499.75" cy="220.2" r="1.15" fill="#3a3a3a"/>
<circle cx="503.05" cy="220.2" r="1.15" fill="#3a3a3a"/>
<text x="9.6" y="359.3" font-size="12.10" fill="#231f20" textLength="6.36" lengthAdjust="spacingAndGlyphs" >F</text>
<text x="44.6" y="367.9" font-size="7.92" fill="#231f20" textLength="32" lengthAdjust="spacingAndGlyphs" >huMcl-1;E</text>
<text x="79.6" y="368.1" font-size="7.92" fill="#231f20" textLength="3.6" lengthAdjust="spacingAndGlyphs" font-style="italic">μ</text>
<text x="83.5" y="367.9" font-size="7.92" fill="#231f20" textLength="15.7" lengthAdjust="spacingAndGlyphs" >-Myc</text>
<line x1="44.6" y1="374.2" x2="44.6" y2="447" stroke="#231f20" stroke-width="1.5" />
<line x1="44.1" y1="446.3" x2="155.9" y2="446.3" stroke="#231f20" stroke-width="1.5" />
<line x1="41" y1="380.4" x2="44.6" y2="380.4" stroke="#231f20" stroke-width="1.5" />
<text x="38.9" y="383.4" font-size="9.46" fill="#231f20" text-anchor="end" textLength="12.899999999999999" lengthAdjust="spacingAndGlyphs" >100</text>
<line x1="41" y1="413.4" x2="44.6" y2="413.4" stroke="#231f20" stroke-width="1.5" />
<text x="38.9" y="416.4" font-size="9.46" fill="#231f20" text-anchor="end" textLength="8.6" lengthAdjust="spacingAndGlyphs" >50</text>
<line x1="41" y1="446.3" x2="44.6" y2="446.3" stroke="#231f20" stroke-width="1.5" />
<text x="38.9" y="449.3" font-size="9.46" fill="#231f20" text-anchor="end" textLength="4.3" lengthAdjust="spacingAndGlyphs" >0</text>
<line x1="44.6" y1="446.3" x2="44.6" y2="449.5" stroke="#231f20" stroke-width="1.5" />
<text x="44.6" y="459.8" font-size="9.46" fill="#231f20" text-anchor="middle" textLength="4.52" lengthAdjust="spacingAndGlyphs" >0</text>
<line x1="62.501000000000005" y1="446.3" x2="62.501000000000005" y2="449.5" stroke="#231f20" stroke-width="1.5" />
<text x="62.501000000000005" y="459.8" font-size="9.46" fill="#231f20" text-anchor="middle" textLength="9.05" lengthAdjust="spacingAndGlyphs" >30</text>
<line x1="80.402" y1="446.3" x2="80.402" y2="449.5" stroke="#231f20" stroke-width="1.5" />
<text x="80.402" y="459.8" font-size="9.46" fill="#231f20" text-anchor="middle" textLength="9.05" lengthAdjust="spacingAndGlyphs" >60</text>
<line x1="98.303" y1="446.3" x2="98.303" y2="449.5" stroke="#231f20" stroke-width="1.5" />
<text x="98.303" y="459.8" font-size="9.46" fill="#231f20" text-anchor="middle" textLength="9.05" lengthAdjust="spacingAndGlyphs" >90</text>
<line x1="116.20400000000001" y1="446.3" x2="116.20400000000001" y2="449.5" stroke="#231f20" stroke-width="1.5" />
<text x="116.20400000000001" y="459.8" font-size="9.46" fill="#231f20" text-anchor="middle" textLength="13.57" lengthAdjust="spacingAndGlyphs" >120</text>
<line x1="134.105" y1="446.3" x2="134.105" y2="449.5" stroke="#231f20" stroke-width="1.5" />
<text x="134.105" y="459.8" font-size="9.46" fill="#231f20" text-anchor="middle" textLength="13.57" lengthAdjust="spacingAndGlyphs" >150</text>
<line x1="152.006" y1="446.3" x2="152.006" y2="449.5" stroke="#231f20" stroke-width="1.5" />
<text x="152.006" y="459.8" font-size="9.46" fill="#231f20" text-anchor="middle" textLength="13.57" lengthAdjust="spacingAndGlyphs" >180</text>
<text x="98.5" y="473.6" font-size="10.56" fill="#231f20" text-anchor="middle" textLength="85.4" lengthAdjust="spacingAndGlyphs" >Days post transplant</text>
<text transform="translate(18.4,410.5) rotate(-90)" font-size="11.00" fill="#231f20" text-anchor="middle" textLength="94.6" lengthAdjust="spacingAndGlyphs" >% tumor free survival</text>
<path d="M44.6,380.4 H60 V385.2 H153.9" fill="none" stroke="#55207a" stroke-width="1.6" stroke-dasharray="2.6 1.3 1.1 1.3"/>
<path d="M44.6,380.4 H58.3 V391 H60.4 V413.5 H69.3 V418.8 H126.6" fill="none" stroke="#6aab46" stroke-width="1.6" />
<path d="M44.6,380.4 H55.8 L56.8,392.5 L58.8,397.8 L60.3,401.5 L61.8,406.8 H69.3 V419.5 H126.6" fill="none" stroke="#2e4f9e" stroke-width="1.2" stroke-dasharray="1.1 1.1"/>
<path d="M44.6,380.4 H51.3 L53.5,400 L56.5,419.5 L59.2,446.3" fill="none" stroke="#eb9316" stroke-width="1.7" stroke-dasharray="3 1.6"/>
<circle cx="141.15" cy="390.3" r="1.15" fill="#3a3a3a"/>
<circle cx="144.45" cy="390.3" r="1.15" fill="#3a3a3a"/>
<circle cx="147.75" cy="390.3" r="1.15" fill="#3a3a3a"/>
<circle cx="151.05" cy="390.3" r="1.15" fill="#3a3a3a"/>
<circle cx="115.55" cy="425.7" r="1.15" fill="#3a3a3a"/>
<circle cx="118.85" cy="425.7" r="1.15" fill="#3a3a3a"/>
<circle cx="122.15" cy="425.7" r="1.15" fill="#3a3a3a"/>
<circle cx="125.45" cy="425.7" r="1.15" fill="#3a3a3a"/>
<path d="M155.9,384.9 H159.5 V420 H155.9" fill="none" stroke="#444" stroke-width="1.3" />
<circle cx="162.35" cy="400.6" r="1.15" fill="#3a3a3a"/>
<circle cx="165.65" cy="400.6" r="1.15" fill="#3a3a3a"/>
<line x1="23.6" y1="487.5" x2="30.4" y2="487.5" stroke="#eb9316" stroke-width="1.8" stroke-dasharray="2.2 1.4"/>
<line x1="27" y1="486.0" x2="27" y2="487.5" stroke="#333" stroke-width="0.7" />
<text x="35.6" y="489.3" font-size="8.14" fill="#231f20" textLength="51.3" lengthAdjust="spacingAndGlyphs" >Vehicle n=18(4)</text>
<line x1="23.6" y1="498.5" x2="30.4" y2="498.5" stroke="#2e4f9e" stroke-width="1.8" stroke-dasharray="1 1.2"/>
<line x1="27" y1="497.0" x2="27" y2="498.5" stroke="#333" stroke-width="0.7" />
<text x="35.6" y="501.2" font-size="8.14" fill="#231f20" textLength="69.2" lengthAdjust="spacingAndGlyphs" >CP 50 mg/kg n=18(4)</text>
<line x1="23.6" y1="510.5" x2="30.4" y2="510.5" stroke="#6aab46" stroke-width="1.8" />
<line x1="27" y1="509.0" x2="27" y2="510.5" stroke="#333" stroke-width="0.7" />
<text x="35.6" y="513.1" font-size="8.14" fill="#231f20" textLength="85.9" lengthAdjust="spacingAndGlyphs" >S63845 7.5 mg/kg n=15(4)</text>
<line x1="23.6" y1="522.5" x2="30.4" y2="522.5" stroke="#55207a" stroke-width="1.8" stroke-dasharray="2.2 1.2 0.8 1.2"/>
<line x1="27" y1="521.0" x2="27" y2="522.5" stroke="#333" stroke-width="0.7" />
<text x="35.6" y="525.2" font-size="8.14" fill="#231f20" textLength="129.2" lengthAdjust="spacingAndGlyphs" >CP 50 mg/kg S63845 7.5 mg/kg n=18(4)</text>
<text x="182.2" y="360.0" font-size="12.10" fill="#231f20" textLength="8.09" lengthAdjust="spacingAndGlyphs" >G</text>
<text x="217.7" y="368.3" font-size="7.92" fill="#231f20" textLength="32" lengthAdjust="spacingAndGlyphs" >huMcl-1;E</text>
<text x="252.7" y="368.5" font-size="7.92" fill="#231f20" textLength="3.6" lengthAdjust="spacingAndGlyphs" font-style="italic">μ</text>
<text x="256.6" y="368.3" font-size="7.92" fill="#231f20" textLength="16.7" lengthAdjust="spacingAndGlyphs" >-Myc</text>
<line x1="216" y1="375" x2="216" y2="450.1" stroke="#231f20" stroke-width="1.5" />
<line x1="215.5" y1="449.4" x2="331.5" y2="449.4" stroke="#231f20" stroke-width="1.5" />
<line x1="212.4" y1="381.3" x2="216" y2="381.3" stroke="#231f20" stroke-width="1.5" />
<text x="211.6" y="384.3" font-size="9.46" fill="#231f20" text-anchor="end" textLength="13.5" lengthAdjust="spacingAndGlyphs" >100</text>
<line x1="212.4" y1="415.4" x2="216" y2="415.4" stroke="#231f20" stroke-width="1.5" />
<text x="211.6" y="418.4" font-size="9.46" fill="#231f20" text-anchor="end" textLength="9.0" lengthAdjust="spacingAndGlyphs" >50</text>
<line x1="212.4" y1="449.4" x2="216" y2="449.4" stroke="#231f20" stroke-width="1.5" />
<text x="211.6" y="452.4" font-size="9.46" fill="#231f20" text-anchor="end" textLength="4.5" lengthAdjust="spacingAndGlyphs" >0</text>
<line x1="216.0" y1="449.4" x2="216.0" y2="452.6" stroke="#231f20" stroke-width="1.5" />
<text x="216.0" y="462.8" font-size="9.46" fill="#231f20" text-anchor="middle" textLength="4.52" lengthAdjust="spacingAndGlyphs" >0</text>
<line x1="253.4" y1="449.4" x2="253.4" y2="452.6" stroke="#231f20" stroke-width="1.5" />
<text x="253.4" y="462.8" font-size="9.46" fill="#231f20" text-anchor="middle" textLength="9.05" lengthAdjust="spacingAndGlyphs" >50</text>
<line x1="290.8" y1="449.4" x2="290.8" y2="452.6" stroke="#231f20" stroke-width="1.5" />
<text x="290.8" y="462.8" font-size="9.46" fill="#231f20" text-anchor="middle" textLength="13.57" lengthAdjust="spacingAndGlyphs" >100</text>
<line x1="328.2" y1="449.4" x2="328.2" y2="452.6" stroke="#231f20" stroke-width="1.5" />
<text x="328.2" y="462.8" font-size="9.46" fill="#231f20" text-anchor="middle" textLength="13.57" lengthAdjust="spacingAndGlyphs" >150</text>
<text x="272.2" y="475.6" font-size="10.56" fill="#231f20" text-anchor="middle" textLength="85.5" lengthAdjust="spacingAndGlyphs" >Days post transplant</text>
<text transform="translate(190.6,412.5) rotate(-90)" font-size="11.00" fill="#231f20" text-anchor="middle" textLength="94.9" lengthAdjust="spacingAndGlyphs" >% tumor free survival</text>
<path d="M216,381.3 H318" fill="none" stroke="#55207a" stroke-width="1.6" stroke-dasharray="2.6 1.3 1.1 1.3"/>
<path d="M216,381.3 H245.8 V389 L247.6,390 V404.3 H318" fill="none" stroke="#2e4f9e" stroke-width="1.2" stroke-dasharray="1.1 1.1"/>
<path d="M216,381.3 H230.8 V389.3 H233 V396.3 H236.8 V403.8 H238.7 V427.3 H246.2 V434.3 H246.8 V442.3 H318" fill="none" stroke="#6aab46" stroke-width="1.6" />
<path d="M216,381.3 H229.3 L230.5,400 L234.5,449.4" fill="none" stroke="#eb9316" stroke-width="1.7" stroke-dasharray="3 1.6"/>
<circle cx="304.15" cy="386.0" r="1.15" fill="#3a3a3a"/>
<circle cx="307.45" cy="386.0" r="1.15" fill="#3a3a3a"/>
<circle cx="310.75" cy="386.0" r="1.15" fill="#3a3a3a"/>
<circle cx="314.05" cy="386.0" r="1.15" fill="#3a3a3a"/>
<circle cx="307.35" cy="408.3" r="1.15" fill="#3a3a3a"/>
<circle cx="310.75" cy="408.3" r="1.15" fill="#3a3a3a"/>
<circle cx="314.15" cy="408.3" r="1.15" fill="#3a3a3a"/>
<circle cx="307.35" cy="446.3" r="1.15" fill="#3a3a3a"/>
<circle cx="310.75" cy="446.3" r="1.15" fill="#3a3a3a"/>
<circle cx="314.15" cy="446.3" r="1.15" fill="#3a3a3a"/>
<path d="M320.4,381.5 H324.4 V407.7 H320.4" fill="none" stroke="#444" stroke-width="1.3" />
<path d="M330.2,381.5 H333.5 V442.7 H330.2" fill="none" stroke="#444" stroke-width="1.3" />
<text x="325.2" y="396.4" font-size="9.90" fill="#231f20" textLength="7" lengthAdjust="spacingAndGlyphs" >ns</text>
<circle cx="338.15" cy="394.6" r="1.15" fill="#3a3a3a"/>
<circle cx="341.55" cy="394.6" r="1.15" fill="#3a3a3a"/>
<circle cx="344.95" cy="394.6" r="1.15" fill="#3a3a3a"/>
<line x1="206" y1="489.5" x2="213.6" y2="489.5" stroke="#eb9316" stroke-width="1.8" stroke-dasharray="2.2 1.4"/>
<line x1="209.8" y1="488.0" x2="209.8" y2="489.5" stroke="#333" stroke-width="0.7" />
<text x="218" y="491.9" font-size="8.14" fill="#231f20" textLength="46.5" lengthAdjust="spacingAndGlyphs" >Vehicle n=9(3)</text>
<line x1="206" y1="499.5" x2="213.6" y2="499.5" stroke="#2e4f9e" stroke-width="1.8" stroke-dasharray="1 1.2"/>
<line x1="209.8" y1="498.0" x2="209.8" y2="499.5" stroke="#333" stroke-width="0.7" />
<text x="218" y="501.8" font-size="8.14" fill="#231f20" textLength="65.8" lengthAdjust="spacingAndGlyphs" >CP 50 mg/kg n=9(3)</text>
<line x1="206" y1="510.0" x2="213.6" y2="510.0" stroke="#6aab46" stroke-width="1.8" />
<line x1="209.8" y1="508.5" x2="209.8" y2="510.0" stroke="#333" stroke-width="0.7" />
<text x="218" y="512.2" font-size="8.14" fill="#231f20" textLength="86" lengthAdjust="spacingAndGlyphs" >S63845 3.75 mg/kg n=9(3)</text>
<line x1="206" y1="521.5" x2="213.6" y2="521.5" stroke="#55207a" stroke-width="1.8" stroke-dasharray="2.2 1.2 0.8 1.2"/>
<line x1="209.8" y1="520.0" x2="209.8" y2="521.5" stroke="#333" stroke-width="0.7" />
<text x="218" y="523.4" font-size="8.14" fill="#231f20" textLength="128.8" lengthAdjust="spacingAndGlyphs" >CP 50 mg/kg S63845 3.75 mg/kg n=9(3)</text>
<rect x="0" y="0" width="520" height="1.5" fill="#000"/><rect x="0" y="0" width="1.5" height="533" fill="#000"/><rect x="518.3" y="0" width="1.7" height="533" fill="#000"/><rect x="0" y="531.3" width="520" height="1.7" fill="#000"/>
</svg>
</body></html>
